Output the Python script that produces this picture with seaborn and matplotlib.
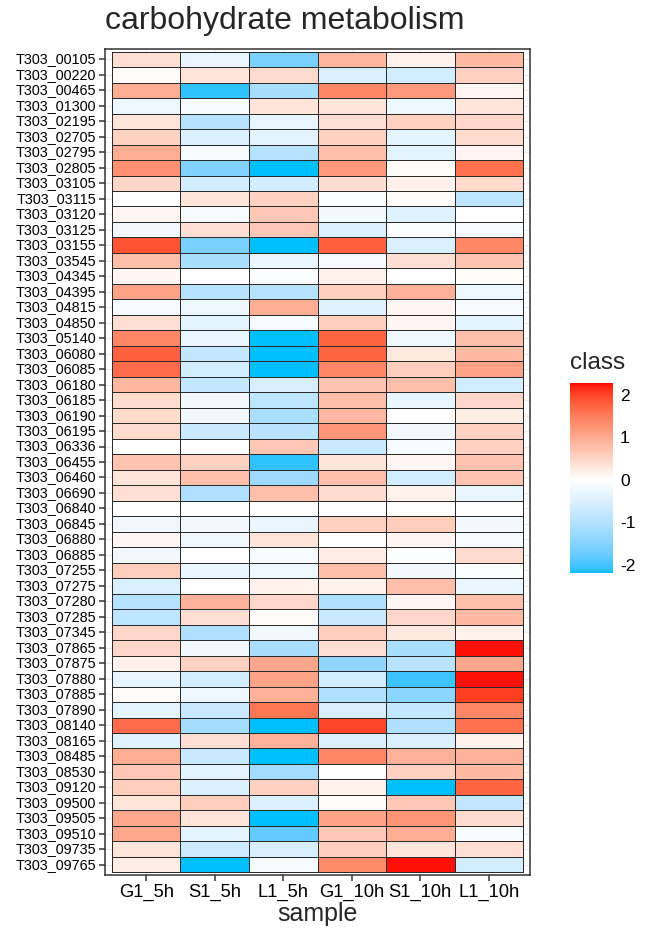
import numpy as np
import pandas as pd
import matplotlib
matplotlib.use("Agg")
import matplotlib.pyplot as plt
import seaborn as sns
from matplotlib.colors import ListedColormap

genes = ["T303_00105", "T303_00220", "T303_00465", "T303_01300", "T303_02195",
         "T303_02705", "T303_02795", "T303_02805", "T303_03105", "T303_03115",
         "T303_03120", "T303_03125", "T303_03155", "T303_03545", "T303_04345",
         "T303_04395", "T303_04815", "T303_04850", "T303_05140", "T303_06080",
         "T303_06085", "T303_06180", "T303_06185", "T303_06190", "T303_06195",
         "T303_06336", "T303_06455", "T303_06460", "T303_06690", "T303_06840",
         "T303_06845", "T303_06880", "T303_06885", "T303_07255", "T303_07275",
         "T303_07280", "T303_07285", "T303_07345", "T303_07865", "T303_07875",
         "T303_07880", "T303_07885", "T303_07890", "T303_08140", "T303_08165",
         "T303_08485", "T303_08530", "T303_09120", "T303_09500", "T303_09505",
         "T303_09510", "T303_09735", "T303_09765"]

samples = ["G1_5h", "S1_5h", "L1_5h", "G1_10h", "S1_10h", "L1_10h"]

g1_5h = [0.38, 0.05, 0.97, -0.25, 0.32, 0.54, 0.97, 1.3, 0.49, 0.0,
         0.11, -0.19, 1.89, 0.76, 0.11, 1.08, -0.12, 0.38, 1.4, 1.78,
         1.67, 0.86, 0.43, 0.43, 0.43, 0.0, 0.7, 0.32, 0.38, 0.0,
         -0.19, 0.11, -0.19, 0.59, -0.5, -1.0, -0.88, 0.49, 0.49, 0.16,
         -0.31, 0.05, -0.38, 1.67, -0.44, 0.97, 0.65, 0.59, 0.32, 1.03,
         1.03, 0.32, 0.22]
s1_5h = [-0.31, 0.32, -2.1, -0.12, -1.0, -0.5, -0.12, -1.56, -0.62, 0.32,
         -0.12, 0.38, -1.62, -1.12, 0.0, -1.0, -0.25, -0.38, -0.31, -0.81,
         -0.62, -0.81, -0.19, -0.19, -0.75, 0.0, 0.54, 0.76, -1.06, 0.0,
         -0.19, -0.25, 0.0, -0.31, 0.0, 0.92, 0.38, -1.06, -0.19, 0.54,
         -0.62, -0.25, -0.75, -1.19, 0.38, -0.75, -0.38, -0.5, 0.59, 0.32,
         -0.38, -0.69, -2.2]
l1_5h = [-1.62, 0.43, -1.12, 0.32, -0.31, -0.38, -1.0, -2.2, -0.62, 0.54,
         0.65, 0.65, -2.2, -0.31, -0.06, -1.0, 0.97, -0.12, -2.2, -2.2,
         -2.2, -0.56, -0.88, -1.12, -0.94, 0.65, -2.1, -1.25, 0.76, 0.0,
         -0.31, 0.32, -0.12, -0.25, 0.16, 0.49, 0.05, -0.19, -1.12, 1.03,
         1.08, 0.92, 1.57, -2.2, 0.92, -2.2, -1.19, 0.54, -0.5, -2.2,
         -1.81, -0.56, -0.12]
g1_10h = [0.86, -0.5, 1.4, 0.32, 0.38, 0.54, 0.76, 1.19, 0.38, -0.06,
          -0.19, -0.5, 1.78, -0.12, 0.16, 0.59, -0.44, 0.59, 1.73, 1.73,
          1.4, 0.7, 0.76, 0.86, 1.24, -0.75, 0.32, 0.76, 0.43, 0.0,
          0.54, 0.0, 0.22, 0.76, 0.16, -1.06, -0.75, 0.59, 0.38, -1.38,
          -0.62, -1.06, -0.56, 2.0, -0.5, 1.4, 0.0, 0.16, 0.05, 1.08,
          0.65, 0.59, 1.35]
s1_10h = [0.16, -0.62, 1.19, -0.25, 0.54, -0.38, -0.38, 0.05, 0.16, 0.05,
          -0.44, -0.06, -0.5, 0.38, 0.0, 0.92, 0.11, 0.11, -0.25, 0.27,
          0.59, 0.76, -0.31, 0.0, -0.19, -0.12, 0.11, -0.62, 0.16, 0.0,
          0.59, 0.11, -0.06, -0.19, 0.76, 0.11, 0.49, 0.27, -1.12, -0.94,
          -2.05, -1.44, -0.81, -1.06, -0.5, 0.92, 0.54, -2.2, 0.65, 1.24,
          0.97, 0.32, 2.25]
l1_10h = [0.81, 0.54, 0.11, 0.32, 0.49, 0.43, 0.11, 1.62, 0.43, -0.88,
          0.0, -0.12, 1.4, 0.7, 0.05, -0.25, -0.12, -0.38, 0.76, 0.81,
          1.08, -0.62, 0.49, 0.22, 0.54, 0.54, 0.7, 0.7, -0.31, 0.0,
          -0.19, -0.12, 0.43, -0.06, -0.31, 0.76, 0.81, 0.16, 2.25, 1.03,
          2.25, 2.05, 1.4, 1.62, 0.16, 0.92, 0.81, 1.73, -0.81, 0.43,
          -0.12, 0.38, -0.62]

VMIN, VMAX = -2.2, 2.28

data = pd.DataFrame(
    np.column_stack([g1_5h, s1_5h, l1_5h, g1_10h, s1_10h, l1_10h]),
    index=genes, columns=samples)


# --- diverging palette interpolated in CIE Lab space ---------------------
def _srgb_to_lab(rgb):
    rgb = np.asarray(rgb, float)
    lin = np.where(rgb <= 0.04045, rgb / 12.92, ((rgb + 0.055) / 1.055) ** 2.4)
    m = np.array([[0.4124564, 0.3575761, 0.1804375],
                  [0.2126729, 0.7151522, 0.0721750],
                  [0.0193339, 0.1191920, 0.9503041]])
    xyz = m @ lin / np.array([0.95047, 1.0, 1.08883])
    f = np.where(xyz > 216 / 24389, np.cbrt(xyz), (24389 / 27 * xyz + 16) / 116)
    return np.array([116 * f[1] - 16, 500 * (f[0] - f[1]), 200 * (f[1] - f[2])])


def _lab_to_srgb(lab):
    L, a, b = lab
    fy = (L + 16) / 116
    fx = fy + a / 500
    fz = fy - b / 200
    f = np.array([fx, fy, fz])
    xyz = np.where(f ** 3 > 216 / 24389, f ** 3, (116 * f - 16) / (24389 / 27))
    xyz = xyz * np.array([0.95047, 1.0, 1.08883])
    minv = np.array([[3.2404542, -1.5371385, -0.4985314],
                     [-0.9692660, 1.8760108, 0.0415560],
                     [0.0556434, -0.2040259, 1.0572252]])
    lin = np.clip(minv @ xyz, 0, 1)
    rgb = np.where(lin <= 0.0031308, 12.92 * lin, 1.055 * lin ** (1 / 2.4) - 0.055)
    return np.clip(rgb, 0, 1)


low = _srgb_to_lab([0, 191 / 255, 1])   # deepskyblue
mid = _srgb_to_lab([1, 1, 1])           # white
high = _srgb_to_lab([1, 0, 0])          # red
colors = []
for v in np.linspace(VMIN, VMAX, 512):
    if v < 0:
        colors.append(_lab_to_srgb(mid + (low - mid) * min(v / VMIN, 1.0)))
    else:
        colors.append(_lab_to_srgb(mid + (high - mid) * min(v / VMAX, 1.0)))
cmap = ListedColormap(colors)

# --- figure ---------------------------------------------------------------
sns.set_theme(style="white")
plt.rcParams["font.family"] = ["Liberation Sans", "DejaVu Sans"]

W, H = 646, 930
fig = plt.figure(figsize=(W / 100, H / 100), dpi=100)
fig.patch.set_facecolor("white")

px_l, px_r, px_t, px_b = 105, 530, 49, 875
ax = fig.add_axes([px_l / W, 1 - px_b / H, (px_r - px_l) / W, (px_b - px_t) / H])
cax = fig.add_axes([570 / W, 1 - 573 / H, 43 / W, 190 / H])

ax.set_axisbelow(True)
sns.heatmap(data, ax=ax, cmap=cmap, vmin=VMIN, vmax=VMAX,
            linewidths=0.6, linecolor="#2a2a2a", cbar=True, cbar_ax=cax)

n_rows, n_cols = data.shape
ax.set_xlim(-0.1, n_cols + 0.1)
ax.set_ylim(n_rows + 0.17, -0.17)

for side in ["left", "right", "top", "bottom"]:
    ax.spines[side].set_visible(True)
    ax.spines[side].set_color("#333333")
    ax.spines[side].set_linewidth(1.1)

ax.set_yticks(np.arange(n_rows) + 0.5)
ax.set_yticklabels(genes, fontsize=10.4, color="black")
ax.set_xticks(np.arange(n_cols) + 0.5)
ax.set_xticklabels(samples, fontsize=13.2, color="black", rotation=0)
ax.tick_params(axis="both", which="major", length=4, width=1.1,
               color="#333333", direction="out", pad=2.5,
               left=True, bottom=True)
ax.grid(True, color="#ebebeb", linewidth=0.8)
ax.set_xlabel("")
ax.set_ylabel("")

# colour bar
cbar = ax.collections[0].colorbar
cbar.outline.set_visible(False)
cbar.set_ticks([-2, -1, 0, 1, 2])
cbar.set_ticklabels(["-2", "-1", "0", "1", "2"])
cax.yaxis.set_ticks_position("both")
cax.tick_params(axis="y", which="major", direction="in", length=5, width=0.8,
                color="white", labelsize=12.5, pad=5, labelright=True,
                labelleft=False, labelcolor="black")

fig.text(570 / W, 1 - 363 / H, "class", fontsize=17.5, ha="left", va="center")
fig.text(105 / W, 1 - 21 / H, "carbohydrate metabolism", fontsize=23,
         ha="left", va="center")
fig.text(317 / W, 1 - 914 / H, "sample", fontsize=18, ha="center", va="center")

fig.savefig("out.png", dpi=100, facecolor="white")
